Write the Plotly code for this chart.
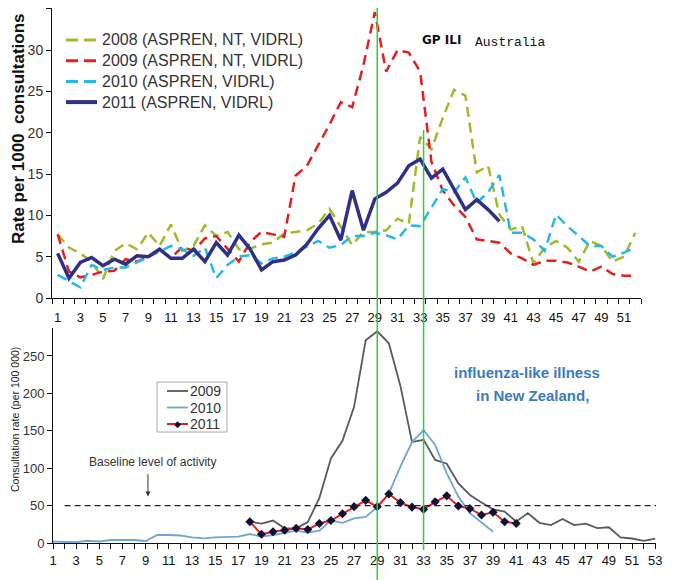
import plotly.graph_objects as go

# Australia GP ILI, rate per 1000 consultations, weeks 1-52
AU_WEEKS = list(range(1, 53))
AU_2008 = [7.7, 6.1, 5.4, 4.4, 2.3, 5.7, 6.6, 5.9, 7.9, 6.3,
           8.9, 5.7, 6.3, 8.8, 7.5, 8.0, 5.9, 6.0, 6.5, 6.7,
           7.8, 8.0, 8.2, 9.0, 10.8, 8.6, 6.4, 8.0, 8.0, 8.2,
           9.6, 9.0, 19.5, 18.0, 21.8, 25.2, 24.5, 15.2, 16.0, 10.1,
           8.3, 8.7, 4.2, 6.1, 6.9, 6.1, 4.4, 6.9, 6.3, 4.4,
           5.0, 7.9]
AU_2009 = [7.7, 3.2, 2.5, 2.8, 3.2, 3.3, 4.7, 4.4, 5.0, 5.9,
           4.8, 6.2, 5.7, 7.2, 7.5, 6.0, 4.4, 6.8, 8.0, 7.7,
           7.4, 14.8, 16.0, 18.5, 21.0, 23.7, 23.1, 28.2, 34.6, 27.4,
           30.0, 29.7, 27.4, 16.5, 13.0, 11.2, 9.8, 7.1, 6.9, 6.7,
           5.4, 4.8, 4.0, 4.5, 4.5, 4.3, 3.8, 3.2, 3.8, 2.9,
           2.7, 2.7]
AU_2010 = [2.8, 2.0, 1.3, 4.0, 3.4, 3.7, 3.7, 4.3, 5.0, 5.7,
           6.3, 5.9, 5.1, 6.1, 2.4, 4.0, 5.0, 5.2, 4.2, 4.8,
           5.0, 5.5, 6.2, 6.9, 6.1, 6.4, 7.5, 7.5, 7.9, 7.6,
           7.1, 8.8, 8.7, 11.0, 13.2, 12.8, 14.6, 11.5, 12.8, 14.9,
           7.9, 7.9, 7.1, 5.7, 10.1, 8.7, 7.5, 6.3, 6.3, 5.0,
           5.5, 6.1]
AU_2011 = [5.4, 2.4, 4.3, 4.9, 3.9, 4.7, 4.1, 5.1, 5.0, 5.9,
           4.8, 4.8, 5.9, 4.4, 6.7, 5.2, 7.6, 5.9, 3.4, 4.4,
           4.6, 5.2, 6.5, 8.4, 10.0, 7.0, 13.0, 8.2, 12.0, 12.8,
           13.9, 16.0, 16.8, 14.5, 15.6, 13.2, 10.7, 11.9, 10.7, 9.3]
AU_NAMES = ["2008 (ASPREN, NT, VIDRL)", "2009 (ASPREN, NT, VIDRL)",
            "2010 (ASPREN, VIDRL)", "2011 (ASPREN, VIDRL)"]

# New Zealand ILI, consultation rate per 100 000
NZ_2009_WEEKS = list(range(18, 54))
NZ_2009 = [28.5, 26, 30, 19.6, 19.6, 28, 60, 113, 137, 182,
           271, 283, 267, 210, 135, 138, 111, 106, 80, 64,
           54, 45, 42, 28.5, 40, 27, 24, 32, 24, 26,
           20, 21, 7.6, 6, 3, 6]
NZ_2010_WEEKS = list(range(1, 40))
NZ_2010 = [1.8, 1.8, 1, 3, 2, 4, 4, 4, 2.7, 10.7,
           10.7, 10, 7.6, 6.2, 7.6, 8, 8.5, 12, 8.5, 10.7,
           14, 16.5, 14, 16.5, 30, 27, 33, 35, 48, 66,
           102, 135, 151, 131, 93, 62, 40, 28, 15]
NZ_2011_WEEKS = list(range(18, 42))
NZ_2011 = [28.5, 11.6, 15, 17, 19.6, 18, 26, 30, 39, 48.6,
           57, 48.6, 65.5, 54, 48, 45, 55, 63, 49.5, 46,
           37.4, 41, 28.5, 26]
NZ_NAMES = ["2009", "2010", "2011"]

BASELINE = 50
MARK_WEEKS = [29, 33]

# the page body has an 8px margin, so the figure is shrunk by that and
# every pixel position below is given in window pixels
PAD = 8
W, H = 700 - PAD, 580 - PAD
FONT = "Liberation Sans, Arial, sans-serif"
GREEN = "#2fd12f"


def px(v):
    return (v - PAD) / W


def py(v):
    return min(1.0, 1 - (v - PAD) / H)


au_styles = [("#9dbb2c", "10px,6px", 2.5), ("#e3201b", "10px,6px", 2.5),
             ("#25b8e8", "10px,6px", 2.5), ("#2e2f86", "solid", 3.5)]
nz_styles = [("#5a5a5a", 1.8), ("#6ea4d6", 1.8), ("#ee1c1c", 2)]

fig = go.Figure()

for name, vals, (col, dash, wid) in zip(AU_NAMES, [AU_2008, AU_2009, AU_2010, AU_2011], au_styles):
    fig.add_trace(go.Scatter(
        x=AU_WEEKS[:len(vals)], y=vals, name=name, mode="lines",
        line=dict(color=col, dash=dash, width=wid),
        xaxis="x", yaxis="y", showlegend=False,
    ))

nz_data = [(NZ_2009_WEEKS, NZ_2009), (NZ_2010_WEEKS, NZ_2010), (NZ_2011_WEEKS, NZ_2011)]
for i, (name, (wk, vals), (col, wid)) in enumerate(zip(NZ_NAMES, nz_data, nz_styles)):
    fig.add_trace(go.Scatter(
        x=wk, y=vals, name=name,
        mode="lines+markers" if i == 2 else "lines",
        line=dict(color=col, width=wid),
        marker=dict(symbol="diamond", size=7, color="#111133"),
        xaxis="x2", yaxis="y2", showlegend=False,
    ))

shapes = [
    dict(type="line", xref="x2", yref="y2", x0=2, x1=54, y0=BASELINE, y1=BASELINE,
         line=dict(color="#222222", width=1.2, dash="6px,4px")),
    dict(type="line", xref="x2", yref="paper", x0=MARK_WEEKS[0], x1=MARK_WEEKS[0],
         y0=0, y1=py(5), line=dict(color=GREEN, width=1.5)),
    dict(type="line", xref="x2", yref="paper", x0=MARK_WEEKS[1], x1=MARK_WEEKS[1],
         y0=py(550), y1=py(130), line=dict(color=GREEN, width=1.5)),
    # NZ legend box
    dict(type="rect", xref="paper", yref="paper", x0=px(157), x1=px(227),
         y0=py(432), y1=py(382), line=dict(color="#aaaaaa", width=1),
         fillcolor="white", layer="below"),
]

annotations = [
    dict(text="<b>Rate per 1000&nbsp; consultations</b>", x=px(18), y=py(129), textangle=-90,
         font=dict(family=FONT, size=17, color="#111111")),
    dict(text="Consultation rate (per 100 000)", x=px(15), y=py(420), textangle=-90,
         font=dict(family=FONT, size=10.5, color="#222222")),
    dict(text="<b>GP ILI</b>", x=px(441), y=py(40),
         font=dict(family="DejaVu Sans", size=12, color="#111111")),
    dict(text="Australia", x=px(510), y=py(42),
         font=dict(family="Liberation Mono", size=13, color="#111111")),
    dict(text="<b>influenza-like illness</b>", x=px(527), y=py(372),
         font=dict(family=FONT, size=15, color="#3b7bbd")),
    dict(text="<b>in New Zealand,</b>", x=px(532), y=py(395),
         font=dict(family=FONT, size=15, color="#3b7bbd")),
    dict(text="Baseline level of activity", x=px(152), y=py(462),
         font=dict(family=FONT, size=12, color="#333333")),
]
for a in annotations:
    a.update(xref="paper", yref="paper", showarrow=False, xanchor="center", yanchor="middle")
annotations.append(dict(text="", xref="x2", yref="y2", x=9.2, y=62, showarrow=True,
                        ax=0, ay=-24, arrowhead=2, arrowsize=1, arrowwidth=1,
                        arrowcolor="#333333"))

# Australia legend (drawn by hand for tight row spacing)
for i, (name, (col, dash, wid)) in enumerate(zip(AU_NAMES, au_styles)):
    yy = py(40 + i * 20.7)
    shapes.append(dict(type="line", xref="paper", yref="paper", x0=px(66), x1=px(97),
                       y0=yy, y1=yy, line=dict(color=col, dash="12px,6px" if dash != "solid" else "solid",
                                               width=wid + 0.5)))
    annotations.append(dict(text=name, xref="paper", yref="paper", x=px(100), y=yy,
                            xanchor="left", yanchor="middle", showarrow=False,
                            font=dict(family=FONT, size=16, color="#333333")))

# New Zealand legend
for i, (name, (col, wid)) in enumerate(zip(NZ_NAMES, nz_styles)):
    yy = py(391 + i * 16.5)
    shapes.append(dict(type="line", xref="paper", yref="paper", x0=px(167), x1=px(188),
                       y0=yy, y1=yy, line=dict(color=col, width=wid)))
    annotations.append(dict(text=name, xref="paper", yref="paper", x=px(188), y=yy,
                            xanchor="left", yanchor="middle", showarrow=False,
                            font=dict(family=FONT, size=14, color="#333333")))
    if i == 2:
        annotations.append(dict(text="\u25c6", xref="paper", yref="paper", x=px(177.5), y=yy,
                                xanchor="center", yanchor="middle", showarrow=False,
                                font=dict(family="DejaVu Sans", size=9, color="#111133")))

axis_common = dict(showline=True, linecolor="#111111", linewidth=1,
                   showgrid=False, zeroline=False, automargin=False)

fig.update_layout(
    width=W, height=H,
    margin=dict(l=0, r=0, t=0, b=0, autoexpand=False),
    paper_bgcolor="white", plot_bgcolor="white",
    font=dict(family=FONT, color="#222222"),
    showlegend=False,
    xaxis=dict(
        domain=[px(52), px(641)], range=[0.5, 52.5], anchor="y",
        tickvals=list(range(1, 53, 2)), ticks="outside", ticklen=5,
        tickcolor="rgba(0,0,0,0)", ticklabelstandoff=2,
        tickfont=dict(size=13, color="#111111"),
        minor=dict(tickmode="linear", tick0=0.5, dtick=1, ticks="outside",
                   ticklen=5, tickcolor="#111111", showgrid=False),
        **axis_common,
    ),
    yaxis=dict(
        domain=[py(298), py(8)], range=[0, 35.1], anchor="x",
        dtick=5, ticks="outside", ticklen=5, tickcolor="#111111",
        tickfont=dict(size=14, color="#333333"),
        **axis_common,
    ),
    xaxis2=dict(
        domain=[px(53), px(656)], range=[1, 53.07], anchor="y2",
        tickvals=list(range(1, 54)),
        ticktext=[str(w) if w % 2 else "" for w in range(1, 54)],
        ticks="outside", ticklen=5, tickcolor="#111111",
        tickfont=dict(size=13, color="#111111"),
        **axis_common,
    ),
    yaxis2=dict(
        domain=[py(543), py(328)], range=[0, 287.4], anchor="x2",
        dtick=50, ticks="outside", ticklen=5, tickcolor="#111111",
        tickfont=dict(size=13, color="#333333"),
        **axis_common,
    ),
    shapes=shapes,
    annotations=annotations,
)

fig.write_html("out.html")
